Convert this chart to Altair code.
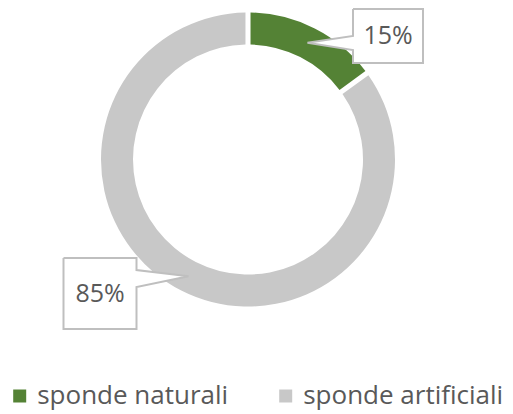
import math
import altair as alt
import pandas as pd

# ---- data ----
categories = ["sponde naturali", "sponde artificiali"]
values = [15, 85]
labels = ["15%", "85%"]
colors = ["#548235", "#C8C8C8"]

# ---- layout (view pixels) ----
W, H = 497, 404
CX, CY = 240, 151.5
R_OUT, R_IN = 147, 115
R_MID = (R_OUT + R_IN) / 2
# callout boxes: x0, y0, x1, y1, side of pointer, pointer base b0, b1
boxes = [
    (345, 1, 415, 55, "left", 28, 42),
    (55.5, 250, 128.5, 321, "right", 262, 279),
]

df = pd.DataFrame({"category": categories, "value": values, "idx": range(len(values))})

# callout outlines; pointer tips follow the mid-angle of each slice
total = sum(values)
rows, txt = [], []
cum = 0
for i, (v, lab) in enumerate(zip(values, labels)):
    mid = (cum + v / 2) / total * 2 * math.pi
    cum += v
    tx = CX + R_MID * math.sin(mid)
    ty = CY - R_MID * math.cos(mid)
    x0, y0, x1, y1, side, b0, b1 = boxes[i]
    if side == "left":
        pts = [(x0, y0), (x1, y0), (x1, y1), (x0, y1), (x0, b1), (tx, ty), (x0, b0), (x0, y0)]
    else:
        pts = [(x0, y0), (x1, y0), (x1, b0), (tx, ty), (x1, b1), (x1, y1), (x0, y1), (x0, y0)]
    for k, (px, py) in enumerate(pts):
        rows.append({"cid": i, "k": k, "px": px, "py": py})
    txt.append({"label": lab, "px": (x0 + x1) / 2, "py": (y0 + y1) / 2})

poly = pd.DataFrame(rows)
tdf = pd.DataFrame(txt)

xs = alt.Scale(domain=[0, W], nice=False, zero=False)
ys = alt.Scale(domain=[0, H], nice=False, zero=False, reverse=True)

arc = alt.Chart(df).mark_arc(outerRadius=R_OUT, innerRadius=R_IN, padAngle=0.027).encode(
    theta=alt.Theta("value:Q", stack=True),
    color=alt.Color(
        "category:N",
        scale=alt.Scale(domain=categories, range=colors),
        sort=categories,
        legend=alt.Legend(
            title=None, orient="none", legendX=-1.3, legendY=375, direction="horizontal",
            symbolType="square", symbolSize=169, symbolStrokeWidth=0,
            labelFont="Open Sans", labelFontSize=26, labelColor="#595959",
            labelOffset=4.5, columnPadding=44, padding=0, labelLimit=400,
        ),
    ),
    order=alt.Order("idx:Q"),
    x=alt.value(CX),
    y=alt.value(CY),
)

callout = alt.Chart(poly).mark_line(
    fill="white", stroke="#BFBFBF", strokeWidth=2, strokeJoin="miter", interpolate="linear"
).encode(
    x=alt.X("px:Q", scale=xs, axis=None),
    y=alt.Y("py:Q", scale=ys, axis=None),
    detail="cid:N",
    order="k:Q",
)

text = alt.Chart(tdf).mark_text(
    font="Open Sans", fontSize=25, color="#595959", align="center", baseline="middle"
).encode(
    x=alt.X("px:Q", scale=xs, axis=None),
    y=alt.Y("py:Q", scale=ys, axis=None),
    text="label:N",
)

chart = alt.layer(arc, callout, text).properties(
    width=W, height=H, padding=0, background="white",
    autosize=alt.AutoSizeParams(type="none"),
).configure_view(stroke=None)

chart.save("out.html", embed_options={"renderer": "svg", "actions": False})
